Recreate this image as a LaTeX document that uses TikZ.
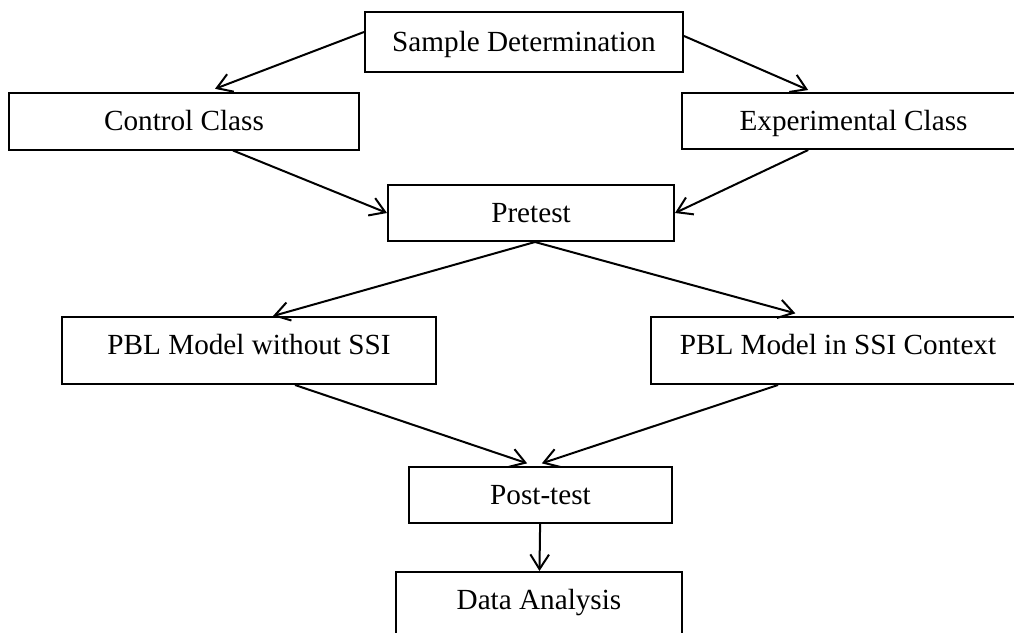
\documentclass[tikz,border=0pt]{standalone}
\usepackage{fontspec}
\setmainfont{Liberation Serif}
\usepackage{tikz}
\usetikzlibrary{arrows.meta}

\begin{document}
\begin{tikzpicture}[x=0.75pt, y=-0.75pt, >={Straight Barb[length=11pt, width=14pt]},
  box/.style={draw, line width=1.5pt, inner sep=0pt, font=\fontsize{21.9}{26}\selectfont,
    text height=14.5pt, text depth=0pt},
  tallbox/.style={box, text depth=8.25pt, minimum height=50.25pt},
  link/.style={->, line width=1.5pt}]
  \useasboundingbox (0,0) rectangle (1014,632);

  % Hộp tiêu đề và hai lớp
  \node[box, minimum width=238.5pt, minimum height=45pt] (sample) at (524,42) {Sample Determination};
  \node[box, minimum width=262.5pt, minimum height=42.75pt] (control) at (184,121) {Control Class};
  \node[box, minimum width=257.25pt, minimum height=42pt] (experiment) at (853.5,121) {Experimental Class};

  % Kiểm tra đầu vào
  \node[box, minimum width=214.5pt, minimum height=42pt] (pretest) at (531,213) {Pretest};

  % Hai mô hình PBL
  \node[tallbox, minimum width=280.5pt] (pblplain) at (249,350.5) {PBL Model without SSI};
  \node[tallbox, minimum width=280.5pt] (pblssi) at (838,350.5) {PBL Model in SSI Context};

  % Kiểm tra sau và phân tích
  \node[box, minimum width=197.25pt, minimum height=42pt] (posttest) at (540.5,495) {Post-test};
  \node[tallbox, minimum width=214.5pt] (analysis) at (539,605.5) {Data Analysis};

  % Mũi tên
  \draw[link] ([yshift=7.5pt]sample.west) -- ([xshift=23.25pt, yshift=2pt]control.north);
  \draw[link] ([yshift=4.5pt]sample.east) -- ([xshift=-34pt, yshift=1.5pt]experiment.north);
  \draw[link] ([xshift=36.75pt]control.south) -- (pretest.west);
  \draw[link] ([xshift=-34pt]experiment.south) -- (pretest.east);
  \draw[link] ([xshift=3pt]pretest.south) -- ([xshift=18pt]pblplain.north);
  \draw[link] ([xshift=3pt]pretest.south) -- ([xshift=-32pt, yshift=2pt]pblssi.north);
  \draw[link] ([xshift=34.5pt]pblplain.south) -- ([xshift=-10pt, yshift=2pt]posttest.north);
  \draw[link] ([xshift=-45pt]pblssi.south) -- ([xshift=1pt, yshift=2pt]posttest.north);
  \draw[link] (posttest) -- (analysis);
\end{tikzpicture}
\end{document}
